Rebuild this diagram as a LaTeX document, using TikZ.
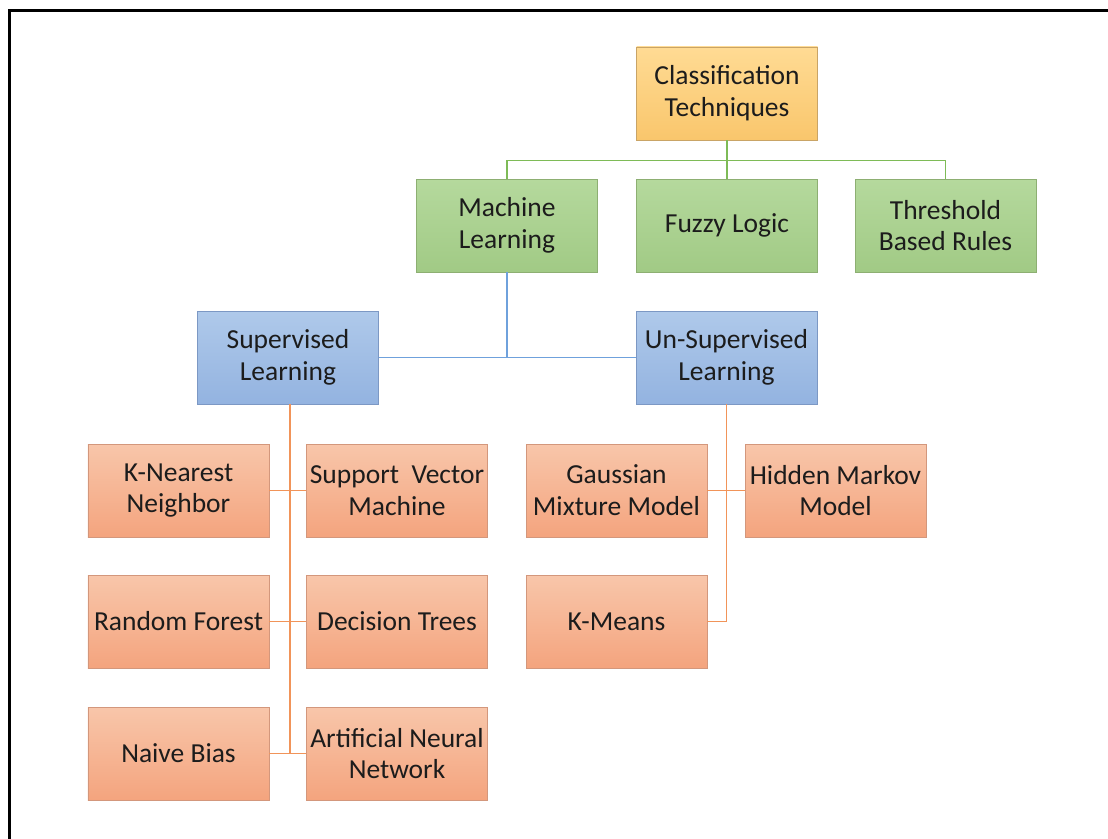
\documentclass[tikz,border=0pt]{standalone}
\usepackage{fontspec}
\setmainfont{Carlito}
\definecolor{rootTop}{HTML}{FFDB94}
\definecolor{rootBot}{HTML}{F9C66C}
\definecolor{rootLine}{HTML}{C9A466}
\definecolor{grnTop}{HTML}{B5D99D}
\definecolor{grnBot}{HTML}{A1CA85}
\definecolor{grnLine}{HTML}{8DAF72}
\definecolor{bluTop}{HTML}{AFC9EA}
\definecolor{bluBot}{HTML}{93B3E0}
\definecolor{bluLine}{HTML}{7C98C4}
\definecolor{salTop}{HTML}{F8C6AA}
\definecolor{salBot}{HTML}{F4A47E}
\definecolor{salLine}{HTML}{D3977C}
\definecolor{grnLink}{HTML}{7EBB57}
\definecolor{bluLink}{HTML}{6FA1DC}
\definecolor{orgLink}{HTML}{F19459}
\definecolor{txt}{HTML}{1C1C1C}
\begin{document}
\begin{tikzpicture}[x=1bp,y=-1bp,
  box/.style={draw, line width=0.9bp, minimum width=181bp, minimum height=93bp,
    inner sep=0pt, align=center, text=txt,
    font=\fontsize{27.6pt}{32pt}\selectfont},
  rootbox/.style={box, draw=rootLine, top color=rootTop, bottom color=rootBot},
  greenbox/.style={box, draw=grnLine, top color=grnTop, bottom color=grnBot},
  bluebox/.style={box, draw=bluLine, top color=bluTop, bottom color=bluBot},
  leafbox/.style={box, draw=salLine, top color=salTop, bottom color=salBot},
  glink/.style={draw=grnLink, line width=1.4bp},
  blink/.style={draw=bluLink, line width=1.7bp},
  olink/.style={draw=orgLink, line width=1.4bp}]

% page area and outer frame
\path[use as bounding box] (0,0) rectangle (1108,839);
\draw[line width=2.8bp] (9.7,845) -- (9.7,10.5) -- (1115,10.5);

% tree nodes
\node[rootbox] (ct) at (727,93.5) {Classification\\Techniques};

\node[greenbox] (ml) at (507,225.5) {Machine\\Learning};
\node[greenbox] (fl) at (727,225.5) {Fuzzy Logic};
\node[greenbox] (tb) at (945.5,225.5) {Threshold\\Based Rules};

\node[bluebox] (sl) at (288,357.5) {Supervised\\Learning};
\node[bluebox] (ul) at (726.5,357.5) {Un-Supervised\\Learning};

\node[leafbox] (knn) at (178.5,490.5) {K-Nearest\\Neighbor};
\node[leafbox] (svm) at (397,490.5) {Support~ Vector\\Machine};
\node[leafbox] (rf)  at (178.5,621.5) {Random Forest};
\node[leafbox] (dt)  at (397,621.5) {Decision Trees};
\node[leafbox] (nb)  at (178.5,753.5) {Naive Bias};
\node[leafbox] (ann) at (397,753.5) {Artificial Neural\\Network};

\node[leafbox] (gmm) at (616.5,490.5) {Gaussian\\Mixture Model};
\node[leafbox] (hmm) at (835.5,490.5) {Hidden Markov\\Model};
\node[leafbox] (km)  at (616.5,621.5) {K-Means};

% green connectors
\coordinate (gbus) at (727,160.5);
\draw[glink] (ct.south) -- (gbus);
\draw[glink] (ml.north) |- (gbus) -| (tb.north);
\draw[glink] (gbus) -- (fl.north);

% blue connectors
\draw[blink] (ml.south) -- (ml.south |- sl.east);
\draw[blink] (sl.east) -- (ul.west);

% orange connectors, supervised branch
\coordinate (strunk) at (290,404);
\draw[olink] (strunk) -- (strunk |- nb.east);
\draw[olink] (knn.east) -- (svm.west);
\draw[olink] (rf.east) -- (dt.west);
\draw[olink] (nb.east) -- (ann.west);

% orange connectors, unsupervised branch
\draw[olink] (ul.south) |- (km.east);
\draw[olink] (gmm.east) -- (hmm.west);
\end{tikzpicture}
\end{document}
